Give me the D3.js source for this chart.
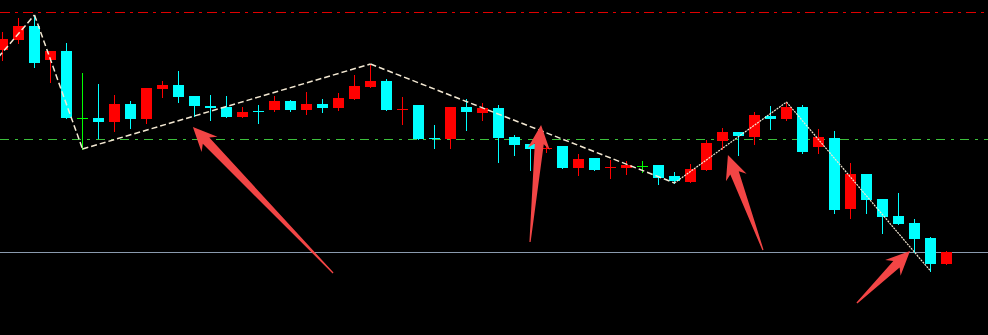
<html>
<head>
<meta charset="utf-8">
<style>
  body { margin: 0; background: #000; }
  svg { display: block; }
</style>
</head>
<body>
<svg class="chart"></svg>
<script src="https://d3js.org/d3.v7.min.js"></script>
<script>
  // candle values: open, high, low, close
  var opens  = [3.50,3.60,3.74,3.40,3.49,2.82,2.82,2.78,2.96,2.81,3.11,3.15,3.04,2.94,2.93,2.83,2.89,2.90,2.99,2.90,
                2.96,2.92,3.01,3.13,3.19,2.90,2.95,2.62,2.61,2.93,2.87,2.92,2.63,2.56,2.51,2.54,2.32,2.42,2.32,2.32,
                2.34,2.35,2.24,2.18,2.30,2.59,2.68,2.63,2.84,2.81,2.93,2.53,2.62,1.91,2.26,2.01,1.84,1.77,1.62,1.36];
  var highs  = [3.68,3.82,3.85,3.49,3.57,3.27,3.16,3.05,2.99,3.12,3.19,3.29,3.04,3.05,3.04,2.93,2.95,3.04,3.00,3.08,
                3.01,3.07,3.25,3.36,3.21,3.03,2.95,2.75,2.93,3.01,2.97,2.95,2.65,2.56,2.57,2.54,2.46,2.42,2.40,2.39,
                2.39,2.35,2.28,2.36,2.60,2.72,2.68,2.88,2.94,2.98,2.95,2.71,2.69,2.37,2.26,2.01,2.07,1.81,1.63,1.49];
  var lows   = [3.40,3.57,3.33,3.18,2.82,2.51,2.62,2.69,2.72,2.77,3.03,2.98,2.84,2.80,2.83,2.83,2.77,2.89,2.89,2.86,
                2.88,2.90,3.01,3.13,2.90,2.76,2.61,2.52,2.52,2.70,2.80,2.38,2.45,2.30,2.48,2.32,2.25,2.30,2.22,2.26,
                2.28,2.16,2.17,2.18,2.30,2.51,2.45,2.56,2.71,2.80,2.47,2.47,1.87,1.82,1.87,1.67,1.76,1.48,1.29,1.36];
  var closes = [3.61,3.74,3.37,3.49,2.82,2.82,2.78,2.96,2.81,3.12,3.15,3.03,2.94,2.92,2.83,2.88,2.88,2.99,2.90,2.96,
                2.92,3.02,3.14,3.19,2.90,2.91,2.61,2.61,2.93,2.88,2.92,2.62,2.55,2.51,2.52,2.32,2.41,2.30,2.33,2.35,
                2.34,2.22,2.19,2.31,2.57,2.68,2.64,2.85,2.81,2.93,2.48,2.63,1.90,2.26,2.00,1.83,1.76,1.61,1.36,1.48];

  // zigzag pivots: [candle index, price]
  var pivots = [[-1,3.29],[2,3.85],[5,2.51],[23,3.36],[42,2.17],[49,2.98],[58,1.29]];

  // horizontal levels
  var redLevel = 3.88, greenLevel = 2.61, grayLevel = 1.48;

  // arrows: [tail index, tail price, tip index, tip price]
  var arrows = [[20.66,1.27,11.9,2.73],[32.97,1.58,33.66,2.75],[47.53,1.50,45.34,2.45],[53.4,0.97,56.72,1.49]];

  var width = 988, height = 335;
  var bodyW = 11;

  var data = opens.map(function(o, i) {
    return {i: i, o: o, h: highs[i], l: lows[i], c: closes[i]};
  });

  var x = d3.scaleLinear().domain([0, 59]).range([2.5, 946.5]);
  var y = d3.scaleLinear().domain([4, 0.65]).range([0, 335]);

  var chart = d3.select(".chart")
    .attr("width", width)
    .attr("height", height)
    .style("background", "#000");

  chart.append("rect").attr("width", width).attr("height", height).attr("fill", "#000");

  function hline(level, color, dash, w) {
    chart.append("line")
      .attr("x1", 0).attr("x2", width)
      .attr("y1", Math.round(y(level)) + 0.5).attr("y2", Math.round(y(level)) + 0.5)
      .attr("stroke", color)
      .attr("stroke-width", w)
      .attr("stroke-dasharray", dash)
      .attr("shape-rendering", "crispEdges");
  }
  hline(redLevel, "#e00000", "10,5,3,5", 1.5);
  hline(greenLevel, "#3cc03c", "9,6,3,6", 1.3);
  hline(grayLevel, "#8a9aae", null, 1.2);

  function colorOf(d) {
    if (d.c > d.o) return "#ff0000";
    if (d.c < d.o) return "#00ffff";
    return "#00ff00";
  }

  var candles = chart.append("g").selectAll("g")
      .data(data)
    .enter().append("g");

  candles.append("line")
    .attr("x1", function(d) { return x(d.i); })
    .attr("x2", function(d) { return x(d.i); })
    .attr("y1", function(d) { return Math.round(y(d.h)); })
    .attr("y2", function(d) { return Math.round(y(d.l)) + 1; })
    .attr("stroke", colorOf)
    .attr("stroke-width", 1)
    .attr("shape-rendering", "crispEdges");

  candles.append("rect")
    .attr("x", function(d) { return x(d.i) - bodyW / 2; })
    .attr("width", bodyW)
    .attr("y", function(d) { return Math.round(y(Math.max(d.o, d.c))); })
    .attr("height", function(d) { return Math.max(1, Math.round(Math.abs(y(d.o) - y(d.c)))); })
    .attr("fill", colorOf)
    .attr("shape-rendering", "crispEdges");

  // zigzag line
  var zz = chart.append("g");
  for (var k = 0; k < pivots.length - 1; k++) {
    var a = pivots[k], b = pivots[k + 1];
    zz.append("line")
      .attr("x1", x(a[0])).attr("y1", y(a[1]))
      .attr("x2", x(b[0])).attr("y2", y(b[1]))
      .attr("stroke", "#f3e8d2")
      .attr("stroke-width", k < 4 ? 1.5 : 1.2)
      .attr("stroke-dasharray", k < 4 ? "6,3" : "2,1");
  }

  // tapered arrows
  function arrowPoints(a) {
    var x0 = x(a[0]), y0 = y(a[1]), x1 = x(a[2]), y1 = y(a[3]);
    var dx = x1 - x0, dy = y1 - y0, L = Math.sqrt(dx * dx + dy * dy);
    var ux = dx / L, uy = dy / L, nx = -uy, ny = ux;
    var headLen = 24, headW = 11, shaftW = 4.5, barb = 5;
    function p(t, s) { return [x0 + ux * t + nx * s, y0 + uy * t + ny * s]; }
    return [
      p(0, 0.6), p(L - headLen + barb, shaftW), p(L - headLen, headW), p(L, 0),
      p(L - headLen, -headW), p(L - headLen + barb, -shaftW), p(0, -0.6)
    ];
  }

  chart.append("g").selectAll("polygon")
      .data(arrows)
    .enter().append("polygon")
      .attr("points", function(d) { return arrowPoints(d).map(function(p) { return p.join(","); }).join(" "); })
      .attr("fill", "#f24545");
</script>
</body>
</html>
